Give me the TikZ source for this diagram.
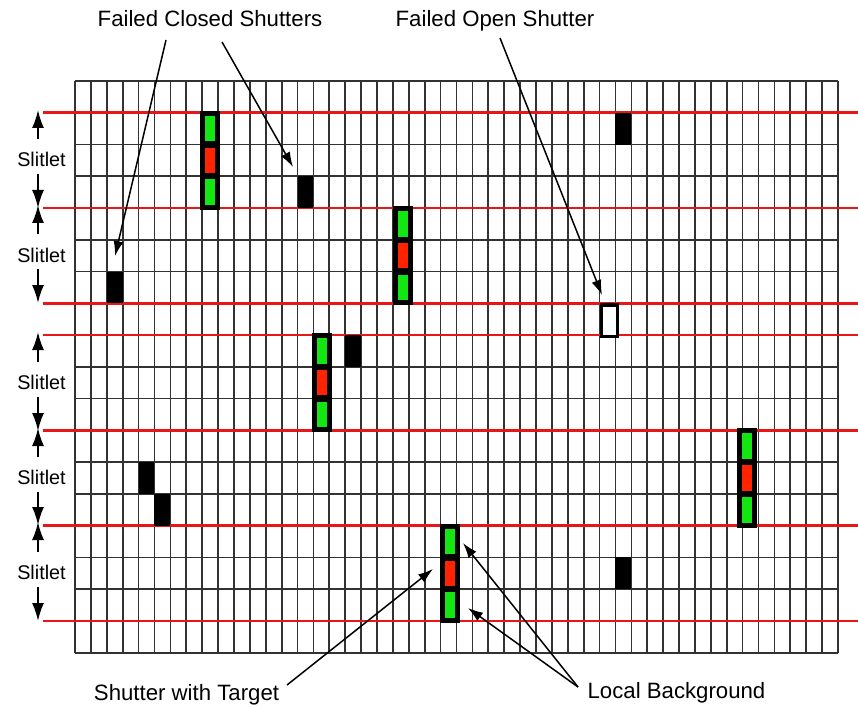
\documentclass[tikz,border=0pt]{standalone}
\usepackage{fontspec}
\setmainfont{Liberation Sans}
\usetikzlibrary{arrows.meta}
\definecolor{gridc}{RGB}{50,50,50}
\definecolor{slitred}{RGB}{232,22,22}
\definecolor{tgtred}{RGB}{255,35,0}
\definecolor{bggreen}{RGB}{20,230,20}
\begin{document}
\begin{tikzpicture}[x=1pt,y=-1pt,
  gridline/.style={gridc, line width=1.7pt},
  redline/.style={slitred, line width=2.6pt},
  lbl/.style={font=\fontsize{22.2}{26}\selectfont, inner sep=0pt, anchor=base},
  slbl/.style={font=\fontsize{19.8}{24}\selectfont, inner sep=0pt, anchor=base},
  callout/.style={line width=1.5pt, -{Latex[length=15pt,width=10pt]}},
  dimarrow/.style={line width=1.8pt, -{Latex[length=18pt,width=12pt]}},
  closedcell/.style={fill=black, inner sep=0pt, minimum width=15.9pt, minimum height=31.76pt},
  opencell/.style={draw=black, fill=white, line width=3.5pt, inner sep=0pt, minimum width=15.9pt, minimum height=31.76pt},
  slitbox/.style={fill=black, inner sep=0pt, minimum width=19.9pt, minimum height=99.3pt},
  bgcell/.style={fill=bggreen, inner sep=0pt, minimum width=9.9pt, minimum height=25.5pt},
  tgcell/.style={fill=tgtred, inner sep=0pt, minimum width=9.9pt, minimum height=25.5pt},
]
\useasboundingbox (0,0) rectangle (858,708);
\fill[white] (0,0) rectangle (858,708);
\def\gx{75}\def\gy{81}\def\cw{15.896}\def\rh{31.76}
% grid
\foreach \i in {0,...,48} \draw[gridline] ({\gx+\i*\cw},\gy) -- ({\gx+\i*\cw},{\gy+18*\rh});
\foreach \k in {0,...,18} \draw[gridline] (\gx,{\gy+\k*\rh}) -- ({\gx+48*\cw},{\gy+\k*\rh});
% slitlet boundaries
\foreach \k in {1,4,7,8,11,14,17} \draw[redline] (43,{\gy+\k*\rh}) -- (858,{\gy+\k*\rh});
% failed closed shutters
\foreach \c/\r in {34/1,14/3,2/6,17/8,4/12,5/13,34/15}
  \node[closedcell] (fc-\c-\r) at ({\gx+(\c+0.5)*\cw},{\gy+(\r+0.5)*\rh}) {};
% failed open shutter
\node[opencell] (fo) at ({\gx+33.5*\cw+2},{\gy+7.5*\rh+1.5}) {};
% slits with target and local background
\foreach \c/\r/\o [count=\n] in {8/1/0,20/4/2,15/8/1,42/11/-3.7,23/14/1.5} {
  \node[slitbox] (s\n) at ({\gx+(\c+0.5)*\cw+\o},{\gy+(\r+1.5)*\rh}) {};
  \node[bgcell] (s\n-top) at ({\gx+(\c+0.5)*\cw+\o},{\gy+(\r+0.5)*\rh}) {};
  \node[tgcell] (s\n-mid) at ({\gx+(\c+0.5)*\cw+\o},{\gy+(\r+1.5)*\rh}) {};
  \node[bgcell] (s\n-bot) at ({\gx+(\c+0.5)*\cw+\o},{\gy+(\r+2.5)*\rh}) {};
}
% slitlet labels
\foreach \t/\b [count=\n] in {113/208,208/303,335/431,431/525,525/621} {
  \pgfmathsetmacro{\m}{(\t+\b)/2}
  \node[slbl] (sl\n) at (41.5,{\m+6.5}) {Slitlet};
  \coordinate (sl\n-up) at (38,{\t-3});
  \coordinate (sl\n-dn) at (38,{\b});
  \draw[dimarrow] (38,{\m-21.5}) -- (sl\n-up);
  \draw[dimarrow] (38,{\m+13.5}) -- (sl\n-dn);
}
% callout labels
\node[lbl] (fcs) at (210,27) {Failed Closed Shutters};
\node[lbl] (fos) at (495,26.5) {Failed Open Shutter};
\node[lbl] (swt) at (186.5,700) {Shutter with Target};
\node[lbl] (lb) at (676.5,698) {Local Background};
% callout arrows
\coordinate (fcs-a) at (166,40);
\coordinate (fcs-b) at (222,42);
\coordinate (fos-a) at (500,38);
\coordinate (swt-a) at (287,685);
\coordinate (lb-a) at (578,687);
\coordinate (t-fc1) at (115,256);
\coordinate (t-fc2) at (293,167);
\coordinate (t-fo) at (602,295);
\coordinate (t-swt) at (433,569);
\coordinate (t-lb1) at (463,543);
\coordinate (t-lb2) at (468,608);
\draw[callout] (fcs-a) -- (t-fc1);
\draw[callout] (fcs-b) -- (t-fc2);
\draw[callout] (fos-a) -- (t-fo);
\draw[callout] (swt-a) -- (t-swt);
\draw[callout] (lb-a) -- (t-lb1);
\draw[callout] (lb-a) -- (t-lb2);
\end{tikzpicture}
\end{document}
